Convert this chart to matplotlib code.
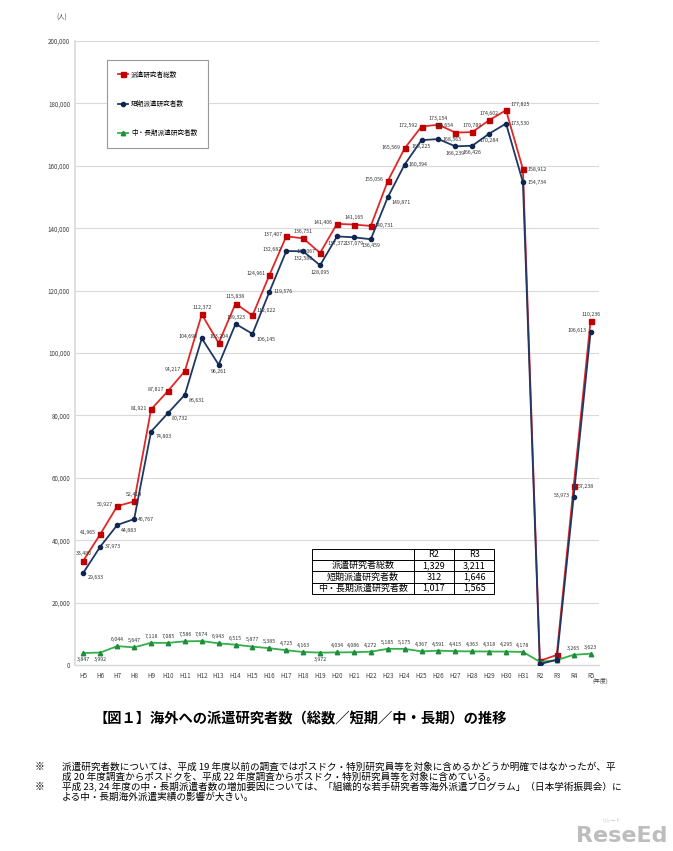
import matplotlib
matplotlib.use("Agg")
import matplotlib.pyplot as plt
from matplotlib.ticker import FuncFormatter

plt.rcParams['font.family'] = ['Noto Sans CJK JP', 'DejaVu Sans']

# fiscal years (H = Heisei, R = Reiwa)
years = ["H5", "H6", "H7", "H8", "H9", "H10", "H11", "H12", "H13", "H14",
         "H15", "H16", "H17", "H18", "H19", "H20", "H21", "H22", "H23", "H24",
         "H25", "H26", "H27", "H28", "H29", "H30", "H31", "R2", "R3", "R4", "R5"]

total = [33480, 41965, 50927, 52414, 81921, 87817, 94217, 112372, 103204, 115838,
         112022, 124961, 137407, 136751, 132067, 141406, 141165, 140731, 155056, 165569,
         172592, 173154, 170654, 170789, 174602, 177825, 158912, 1329, 3211, 57238, 110236]

short_term = [29633, 37973, 44883, 46767, 74803, 80732, 86631, 104698, 96261, 109323,
              106145, 119576, 132682, 132588, 128095, 137372, 137079, 136459, 149871, 160394,
              168225, 168563, 166239, 166426, 170284, 173530, 154734, 312, 1646, 53973, 106613]

long_term = [3847, 3992, 6044, 5647, 7118, 7085, 7586, 7674, 6943, 6515,
             5877, 5385, 4725, 4163, 3972, 4034, 4086, 4272, 5185, 5175,
             4367, 4591, 4415, 4363, 4318, 4295, 4178, 1017, 1565, 3265, 3623]

series_names = ["派遣研究者総数", "短期派遣研究者数", "中・長期派遣研究者数"]

table_cols = ["", "R2", "R3"]
table_rows = [["派遣研究者総数", "1,329", "3,211"],
              ["短期派遣研究者数", "312", "1,646"],
              ["中・長期派遣研究者数", "1,017", "1,565"]]

# where each data label sits relative to its point ('' = no label)
total_pos = ["a", "l", "l", "a", "l", "l", "l", "a", "a", "a",
             "ra", "l", "l", "a", "l", "l", "a", "r", "l", "l",
             "l", "a", "la", "a", "a", "ra", "r", "", "", "r", "a"]
short_pos = ["rb", "r", "rb", "r", "rb", "rb", "rb", "l", "b", "a",
             "rb", "r", "l", "b", "b", "b", "b", "b", "rb", "r",
             "b", "r", "b", "b", "b", "r", "r", "", "", "l", "l"]
long_pos = ["b", "b", "a", "a", "a", "a", "a", "a", "a", "a",
            "a", "a", "a", "a", "b", "a", "a", "a", "a", "a",
            "a", "a", "a", "a", "a", "a", "a", "", "", "a", "a"]

offsets = {
    "a": ((0, 3), "center", "bottom"),
    "b": ((0, -3), "center", "top"),
    "l": ((-3, 1), "right", "center"),
    "la": ((-1, 3), "right", "bottom"),
    "r": ((3, 0), "left", "center"),
    "ra": ((3, 2), "left", "bottom"),
    "rb": ((3, -2), "left", "top"),
}


def format_func(value, tick_number):
    return '{:,}'.format(int(value))


def add_labels(ax, xs, values, positions, color):
    for x, v, p in zip(xs, values, positions):
        if not p:
            continue
        off, ha, va = offsets[p]
        ax.annotate(format_func(v, None), (x, v), xytext=off, textcoords="offset points",
                    ha=ha, va=va, fontsize=3.8, color=color)


fig = plt.figure(figsize=(6.73, 8.51), dpi=100)
ax = fig.add_axes([75 / 673, 1 - 665 / 851, 524 / 673, 624 / 851])

xs = list(range(len(years)))
ax.plot(xs, total, color="#E02828", lw=1.3, marker="s", ms=3.6,
        mfc="#C00000", mec="#C00000", label=series_names[0], zorder=3)
ax.plot(xs, short_term, color="#1F3864", lw=1.3, marker="o", ms=3.0,
        mfc="#0F2650", mec="#0F2650", label=series_names[1], zorder=4)
ax.plot(xs, long_term, color="#33B04A", lw=1.3, marker="^", ms=3.2,
        mfc="#1E8C3A", mec="#1E8C3A", label=series_names[2], zorder=3)

add_labels(ax, xs, total, total_pos, "#333333")
add_labels(ax, xs, short_term, short_pos, "#333333")
add_labels(ax, xs, long_term, long_pos, "#333333")

ax.set_xlim(-0.5, len(years) - 0.5)
ax.set_ylim(0, 200000)
ax.set_yticks(range(0, 200001, 20000))
ax.yaxis.set_major_formatter(FuncFormatter(format_func))
ax.set_xticks(xs, labels=years)
ax.tick_params(axis="both", labelsize=4.5, colors="#404040", length=0)
ax.tick_params(axis="x", pad=5)
ax.grid(axis="y", color="#D9D9D9", lw=0.8)
ax.set_axisbelow(True)
for side in ["top", "right"]:
    ax.spines[side].set_visible(False)
ax.spines["left"].set_color("#D9D9D9")
ax.spines["left"].set_linewidth(1.2)
ax.spines["bottom"].set_color("#D9D9D9")
ax.spines["bottom"].set_linewidth(1.0)

leg = ax.legend(loc="upper left", bbox_to_anchor=(0.055, 0.975), fontsize=4.8,
                labelspacing=3.2, borderpad=1.6, handlelength=1.6, handletextpad=0.4,
                fancybox=False, edgecolor="#999999", framealpha=1)
leg.get_frame().set_linewidth(0.8)

tbl = ax.table(cellText=table_rows, colLabels=table_cols, cellLoc="center",
               bbox=[0.452, 0.114, 0.348, 0.072], colWidths=[0.56, 0.22, 0.22])
tbl.auto_set_font_size(False)
tbl.set_fontsize(6.5)
for cell in tbl.get_celld().values():
    cell.set_linewidth(0.7)
    cell.set_edgecolor("black")
    cell.set_facecolor("white")

fig.text(62 / 673, 1 - 18 / 851, "(人)", fontsize=4.5, color="#404040", ha="center", va="center")
fig.text(600 / 673, 1 - 681 / 851, "(年度)", fontsize=4.2, color="#404040", ha="center", va="center")

fig.text(300 / 673, 1 - 719 / 851, "【図１】海外への派遣研究者数（総数／短期／中・長期）の推移",
         fontsize=10.3, fontweight="bold", ha="center", va="center")

notes = [
    (767, "※", "派遣研究者数については、平成 19 年度以前の調査ではポスドク・特別研究員等を対象に含めるかどうか明確ではなかったが、平"),
    (777, "", "成 20 年度調査からポスドクを、平成 22 年度調査からポスドク・特別研究員等を対象に含めている。"),
    (787, "※", "平成 23, 24 年度の中・長期派遣者数の増加要因については、「組織的な若手研究者等海外派遣プログラム」（日本学術振興会）に"),
    (797, "", "よる中・長期海外派遣実績の影響が大きい。"),
]
for y, mark, text in notes:
    if mark:
        fig.text(40 / 673, 1 - y / 851, mark, fontsize=7, ha="center", va="center")
    fig.text(62 / 673, 1 - y / 851, text, fontsize=6.9, ha="left", va="center")

# watermark
fig.text(668 / 673, 1 - 836 / 851, "ReseEd", fontsize=16, fontweight="bold",
         color="#BDBDBD", ha="right", va="center", family=["DejaVu Sans"])
fig.text(612 / 673, 1 - 821 / 851, "リシード", fontsize=3.5, color="#BDBDBD",
         ha="center", va="center")

fig.savefig("out.png", dpi=100)
